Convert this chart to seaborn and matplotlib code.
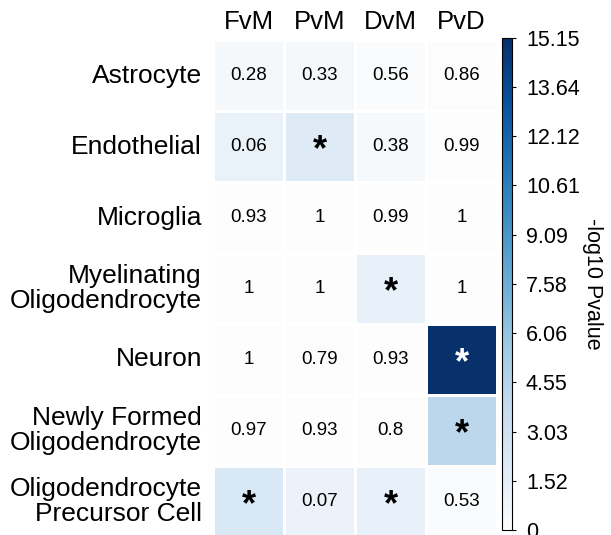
import numpy as np
import pandas as pd
import matplotlib
matplotlib.use("Agg")
import matplotlib.pyplot as plt
import seaborn as sns
from matplotlib.colors import LinearSegmentedColormap

# comparisons and cell types
comparisons = ["FvM", "PvM", "DvM", "PvD"]
cell_types = ["Astrocyte", "Endothelial", "Microglia",
              "Myelinating\nOligodendrocyte", "Neuron",
              "Newly Formed\nOligodendrocyte",
              "Oligodendrocyte\nPrecursor Cell"]

# -log10 pvalue (colour)
neglog_p = [
    [0.55, 0.48, 0.25, 0.07],
    [1.22, 1.90, 0.42, 0.00],
    [0.03, 0.00, 0.00, 0.00],
    [0.00, 0.00, 1.35, 0.00],
    [0.00, 0.10, 0.03, 15.15],
    [0.01, 0.03, 0.10, 4.30],
    [2.30, 1.15, 1.35, 0.28],
]

# text shown in the cells
cell_text = [
    ["0.28", "0.33", "0.56", "0.86"],
    ["0.06", "*", "0.38", "0.99"],
    ["0.93", "1", "0.99", "1"],
    ["1", "1", "*", "1"],
    ["1", "0.79", "0.93", "*"],
    ["0.97", "0.93", "0.8", "*"],
    ["*", "0.07", "*", "0.53"],
]

cbar_ticks = [0, 1.52, 3.03, 4.55, 6.06, 7.58, 9.09, 10.61, 12.12, 13.64, 15.15]
cbar_ticklabels = ["0", "1.52", "3.03", "4.55", "6.06", "7.58", "9.09",
                   "10.61", "12.12", "13.64", "15.15"]

plt.rcParams['font.family'] = ['Liberation Sans', 'DejaVu Sans']

# Blues, but starting from plain white
blues_white = LinearSegmentedColormap.from_list(
    "blues_white", ["#fdfdfd", "#deebf7", "#c6dbef", "#9ecae1", "#6baed6",
                    "#4292c6", "#2171b5", "#08519c", "#08306b"])

df = pd.DataFrame(neglog_p, index=cell_types, columns=comparisons)
annot = np.array(cell_text)

W, H = 611, 535
fig = plt.figure(figsize=(W / 100, H / 100), dpi=100)
ax = fig.add_axes([213 / W, 1 - 537 / H, 284 / W, 497 / H])
cax = fig.add_axes([502 / W, 1 - 530 / H, 10 / W, 492 / H])

sns.heatmap(df, ax=ax, cbar_ax=cax, cmap=blues_white, vmin=0, vmax=15.15,
            annot=annot, fmt="", linewidths=1, linecolor="white",
            annot_kws={"fontsize": 13.5})

# black text on light cells, bigger bold stars
for t in ax.texts:
    if t.get_color() != "w":
        t.set_color("black")
    if t.get_text() == "*":
        t.set_fontsize(26)
        t.set_fontweight("bold")
        t.set_va("center_baseline")

ax.xaxis.tick_top()
ax.tick_params(axis="x", length=0, pad=4, labelsize=18.5)
ax.tick_params(axis="y", length=0, pad=8, labelsize=19)
ax.set_xlabel("")
ax.set_ylabel("")
plt.setp(ax.get_yticklabels(), rotation=0, ha="right", linespacing=1.05)

cax.set_yticks(cbar_ticks)
cax.set_yticklabels(cbar_ticklabels)
cax.tick_params(labelsize=15.5, length=3, width=0.8, pad=7)
cbar = ax.collections[0].colorbar
cbar.outline.set_visible(True)
cbar.outline.set_edgecolor("black")
cbar.outline.set_linewidth(0.8)
cbar.set_label("-log10 Pvalue", rotation=270, fontsize=15.5, labelpad=17)

fig.savefig("out.png", dpi=100)
